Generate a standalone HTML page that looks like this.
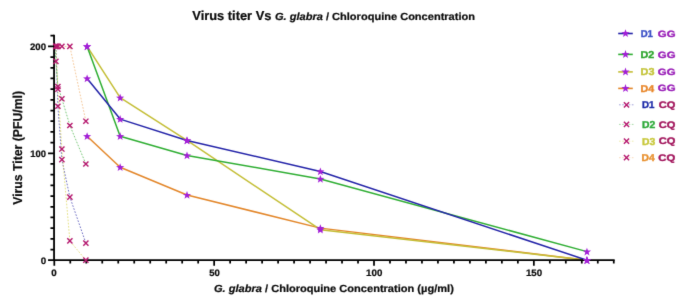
<!DOCTYPE html>
<html><head><meta charset="utf-8"><title>Virus titer Vs G. glabra / Chloroquine Concentration</title>
<style>html,body{margin:0;padding:0;background:#fff}</style></head>
<body>
<svg width="685" height="303" viewBox="0 0 685 303" style="display:block;font-family:'Liberation Sans',Arial,sans-serif;font-weight:bold;text-rendering:geometricPrecision">
<defs><filter id="soft" x="0" y="0" width="100%" height="100%" color-interpolation-filters="sRGB"><feConvolveMatrix order="3" kernelMatrix="0.0081 0.0738 0.0081 0.0738 0.6724 0.0738 0.0081 0.0738 0.0081" divisor="1" edgeMode="duplicate" preserveAlpha="true"/></filter></defs>
<g filter="url(#soft)">
<rect width="685" height="303" fill="#fff"/>
<path d="M85.87 243.10 L69.88 197.13 L61.89 159.71 L57.90 106.26 L55.90 46.40" stroke="#2222a4" stroke-width="0.8" stroke-opacity="0.8" stroke-dasharray="1.7 1.5" fill="none"/>
<path d="M85.87 163.99 L69.88 125.51 L61.89 98.78 L57.90 86.49 L55.90 61.37 L54.90 46.40" stroke="#2fa82f" stroke-width="0.8" stroke-opacity="0.8" stroke-dasharray="1.7 1.5" fill="none"/>
<path d="M85.87 260.20 L69.88 240.96 L61.89 149.02 L57.90 89.16 L55.90 46.40" stroke="#d6d040" stroke-width="0.8" stroke-opacity="0.8" stroke-dasharray="1.7 1.5" fill="none"/>
<path d="M85.87 121.23 L69.88 46.40 L61.89 46.40 L57.90 46.40 L55.90 46.40" stroke="#f0a860" stroke-width="0.8" stroke-opacity="0.8" stroke-dasharray="1.7 1.5" fill="none"/>
<path d="M87.10 136.20 L120.15 167.20 L187.00 194.99 L320.35 228.13 L586.95 260.20" stroke="#e3872b" stroke-width="1.5" fill="none" stroke-linejoin="round"/>
<path d="M87.10 46.40 L120.15 97.71 L187.00 140.47 L320.35 229.73 L586.95 260.20" stroke="#c4be36" stroke-width="1.5" fill="none" stroke-linejoin="round"/>
<path d="M87.10 46.40 L120.15 136.20 L187.00 155.44 L320.35 178.96 L586.95 251.65" stroke="#2fae33" stroke-width="1.5" fill="none" stroke-linejoin="round"/>
<path d="M87.10 78.47 L120.15 119.09 L187.00 140.47 L320.35 171.47 L586.95 260.20" stroke="#2323a8" stroke-width="1.5" fill="none" stroke-linejoin="round"/>
<path d="M54.05 34.81V260.20H614.67" stroke="#000" stroke-width="1.8" fill="none" stroke-linejoin="miter"/>
<path d="M48.05 260.20H54.05 M50.45 249.51H54.05 M50.45 238.82H54.05 M50.45 228.13H54.05 M50.45 217.44H54.05 M50.45 206.75H54.05 M50.45 196.06H54.05 M50.45 185.37H54.05 M50.45 174.68H54.05 M50.45 163.99H54.05 M48.05 153.30H54.05 M50.45 142.61H54.05 M50.45 131.92H54.05 M50.45 121.23H54.05 M50.45 110.54H54.05 M50.45 99.85H54.05 M50.45 89.16H54.05 M50.45 78.47H54.05 M50.45 67.78H54.05 M50.45 57.09H54.05 M48.05 46.40H54.05 M50.45 35.71H54.05 M54.30 260.2V265.80 M70.28 260.2V263.60 M86.27 260.2V263.60 M102.25 260.2V263.60 M118.24 260.2V263.60 M134.22 260.2V263.60 M150.21 260.2V263.60 M166.19 260.2V263.60 M182.18 260.2V263.60 M198.17 260.2V263.60 M214.15 260.2V265.80 M230.13 260.2V263.60 M246.12 260.2V263.60 M262.11 260.2V263.60 M278.09 260.2V263.60 M294.07 260.2V263.60 M310.06 260.2V263.60 M326.05 260.2V263.60 M342.03 260.2V263.60 M358.02 260.2V263.60 M374.00 260.2V265.80 M389.99 260.2V263.60 M405.97 260.2V263.60 M421.96 260.2V263.60 M437.94 260.2V263.60 M453.93 260.2V263.60 M469.91 260.2V263.60 M485.90 260.2V263.60 M501.88 260.2V263.60 M517.87 260.2V263.60 M533.85 260.2V265.80 M549.84 260.2V263.60 M565.82 260.2V263.60 M581.80 260.2V263.60 M597.79 260.2V263.60 M613.77 260.2V263.60" stroke="#000" stroke-width="1.75" fill="none"/>
<path d="M83.27 240.50L88.47 245.70M83.27 245.70L88.47 240.50" stroke="#b5186e" stroke-width="1.4" fill="none"/>
<path d="M67.28 194.53L72.48 199.73M67.28 199.73L72.48 194.53" stroke="#b5186e" stroke-width="1.4" fill="none"/>
<path d="M59.29 157.11L64.49 162.31M59.29 162.31L64.49 157.11" stroke="#b5186e" stroke-width="1.4" fill="none"/>
<path d="M55.30 103.66L60.50 108.86M55.30 108.86L60.50 103.66" stroke="#b5186e" stroke-width="1.4" fill="none"/>
<path d="M53.30 43.80L58.50 49.00M53.30 49.00L58.50 43.80" stroke="#b5186e" stroke-width="1.4" fill="none"/>
<path d="M83.27 161.39L88.47 166.59M83.27 166.59L88.47 161.39" stroke="#b5186e" stroke-width="1.4" fill="none"/>
<path d="M67.28 122.91L72.48 128.11M67.28 128.11L72.48 122.91" stroke="#b5186e" stroke-width="1.4" fill="none"/>
<path d="M59.29 96.18L64.49 101.38M59.29 101.38L64.49 96.18" stroke="#b5186e" stroke-width="1.4" fill="none"/>
<path d="M55.30 83.89L60.50 89.09M55.30 89.09L60.50 83.89" stroke="#b5186e" stroke-width="1.4" fill="none"/>
<path d="M53.30 58.77L58.50 63.97M53.30 63.97L58.50 58.77" stroke="#b5186e" stroke-width="1.4" fill="none"/>
<path d="M83.27 257.60L88.47 262.80M83.27 262.80L88.47 257.60" stroke="#b5186e" stroke-width="1.4" fill="none"/>
<path d="M67.28 238.36L72.48 243.56M67.28 243.56L72.48 238.36" stroke="#b5186e" stroke-width="1.4" fill="none"/>
<path d="M59.29 146.42L64.49 151.62M59.29 151.62L64.49 146.42" stroke="#b5186e" stroke-width="1.4" fill="none"/>
<path d="M55.30 86.56L60.50 91.76M55.30 91.76L60.50 86.56" stroke="#b5186e" stroke-width="1.4" fill="none"/>
<path d="M53.30 43.80L58.50 49.00M53.30 49.00L58.50 43.80" stroke="#b5186e" stroke-width="1.4" fill="none"/>
<path d="M83.27 118.63L88.47 123.83M83.27 123.83L88.47 118.63" stroke="#b5186e" stroke-width="1.4" fill="none"/>
<path d="M67.28 43.80L72.48 49.00M67.28 49.00L72.48 43.80" stroke="#b5186e" stroke-width="1.4" fill="none"/>
<path d="M59.29 43.80L64.49 49.00M59.29 49.00L64.49 43.80" stroke="#b5186e" stroke-width="1.4" fill="none"/>
<path d="M55.30 43.80L60.50 49.00M55.30 49.00L60.50 43.80" stroke="#b5186e" stroke-width="1.4" fill="none"/>
<path d="M53.30 43.80L58.50 49.00M53.30 49.00L58.50 43.80" stroke="#b5186e" stroke-width="1.4" fill="none"/>
<polygon points="87.10,74.47 88.13,77.35 91.19,77.44 88.76,79.31 89.63,82.25 87.10,80.52 84.57,82.25 85.44,79.31 83.01,77.44 86.07,77.35" fill="#a21fd6"/>
<polygon points="120.15,115.09 121.18,117.98 124.24,118.06 121.81,119.93 122.68,122.87 120.15,121.14 117.62,122.87 118.49,119.93 116.06,118.06 119.12,117.98" fill="#a21fd6"/>
<polygon points="187.00,136.47 188.03,139.36 191.09,139.44 188.66,141.31 189.53,144.25 187.00,142.52 184.47,144.25 185.34,141.31 182.91,139.44 185.97,139.36" fill="#a21fd6"/>
<polygon points="320.35,167.47 321.38,170.36 324.44,170.44 322.01,172.31 322.88,175.25 320.35,173.52 317.82,175.25 318.69,172.31 316.26,170.44 319.32,170.36" fill="#a21fd6"/>
<polygon points="586.95,256.20 587.98,259.08 591.04,259.17 588.61,261.04 589.48,263.98 586.95,262.25 584.42,263.98 585.29,261.04 582.86,259.17 585.92,259.08" fill="#a21fd6"/>
<polygon points="87.10,42.40 88.13,45.28 91.19,45.37 88.76,47.24 89.63,50.18 87.10,48.45 84.57,50.18 85.44,47.24 83.01,45.37 86.07,45.28" fill="#a21fd6"/>
<polygon points="120.15,132.20 121.18,135.08 124.24,135.17 121.81,137.04 122.68,139.97 120.15,138.25 117.62,139.97 118.49,137.04 116.06,135.17 119.12,135.08" fill="#a21fd6"/>
<polygon points="187.00,151.44 188.03,154.32 191.09,154.41 188.66,156.28 189.53,159.22 187.00,157.49 184.47,159.22 185.34,156.28 182.91,154.41 185.97,154.32" fill="#a21fd6"/>
<polygon points="320.35,174.96 321.38,177.84 324.44,177.93 322.01,179.80 322.88,182.73 320.35,181.01 317.82,182.73 318.69,179.80 316.26,177.93 319.32,177.84" fill="#a21fd6"/>
<polygon points="586.95,247.65 587.98,250.53 591.04,250.62 588.61,252.49 589.48,255.43 586.95,253.70 584.42,255.43 585.29,252.49 582.86,250.62 585.92,250.53" fill="#a21fd6"/>
<polygon points="87.10,42.40 88.13,45.28 91.19,45.37 88.76,47.24 89.63,50.18 87.10,48.45 84.57,50.18 85.44,47.24 83.01,45.37 86.07,45.28" fill="#a21fd6"/>
<polygon points="120.15,93.71 121.18,96.60 124.24,96.68 121.81,98.55 122.68,101.49 120.15,99.76 117.62,101.49 118.49,98.55 116.06,96.68 119.12,96.60" fill="#a21fd6"/>
<polygon points="187.00,136.47 188.03,139.36 191.09,139.44 188.66,141.31 189.53,144.25 187.00,142.52 184.47,144.25 185.34,141.31 182.91,139.44 185.97,139.36" fill="#a21fd6"/>
<polygon points="320.35,225.73 321.38,228.62 324.44,228.70 322.01,230.57 322.88,233.51 320.35,231.78 317.82,233.51 318.69,230.57 316.26,228.70 319.32,228.62" fill="#a21fd6"/>
<polygon points="586.95,256.20 587.98,259.08 591.04,259.17 588.61,261.04 589.48,263.98 586.95,262.25 584.42,263.98 585.29,261.04 582.86,259.17 585.92,259.08" fill="#a21fd6"/>
<polygon points="87.10,132.20 88.13,135.08 91.19,135.17 88.76,137.04 89.63,139.97 87.10,138.25 84.57,139.97 85.44,137.04 83.01,135.17 86.07,135.08" fill="#a21fd6"/>
<polygon points="120.15,163.20 121.18,166.08 124.24,166.17 121.81,168.04 122.68,170.98 120.15,169.25 117.62,170.98 118.49,168.04 116.06,166.17 119.12,166.08" fill="#a21fd6"/>
<polygon points="187.00,190.99 188.03,193.88 191.09,193.96 188.66,195.83 189.53,198.77 187.00,197.04 184.47,198.77 185.34,195.83 182.91,193.96 185.97,193.88" fill="#a21fd6"/>
<polygon points="320.35,224.13 321.38,227.01 324.44,227.10 322.01,228.97 322.88,231.91 320.35,230.18 317.82,231.91 318.69,228.97 316.26,227.10 319.32,227.01" fill="#a21fd6"/>
<polygon points="586.95,256.20 587.98,259.08 591.04,259.17 588.61,261.04 589.48,263.98 586.95,262.25 584.42,263.98 585.29,261.04 582.86,259.17 585.92,259.08" fill="#a21fd6"/>
<text transform="translate(40.63 263.75) scale(1.0382 1)" font-size="9.45" fill="#0b0b0b" stroke="#0b0b0b" stroke-width="0.22">0</text>
<text transform="translate(30.32 156.85) scale(0.9987 1)" font-size="9.45" fill="#0b0b0b" stroke="#0b0b0b" stroke-width="0.22">100</text>
<text transform="translate(29.98 49.95) scale(1.0210 1)" font-size="9.45" fill="#0b0b0b" stroke="#0b0b0b" stroke-width="0.22">200</text>
<text transform="translate(51.28 276.30) scale(1.0382 1)" font-size="9.45" fill="#0b0b0b" stroke="#0b0b0b" stroke-width="0.22">0</text>
<text transform="translate(209.17 276.30) scale(1.0135 1)" font-size="9.45" fill="#0b0b0b" stroke="#0b0b0b" stroke-width="0.22">50</text>
<text transform="translate(366.06 276.30) scale(1.0325 1)" font-size="9.45" fill="#0b0b0b" stroke="#0b0b0b" stroke-width="0.22">100</text>
<text transform="translate(525.91 276.30) scale(1.0325 1)" font-size="9.45" fill="#0b0b0b" stroke="#0b0b0b" stroke-width="0.22">150</text>
<text transform="translate(192.33 19.70) scale(0.9888 1)" font-size="13.0" fill="#0b0b0b" stroke="#0b0b0b" stroke-width="0.22">Virus titer Vs</text>
<text transform="translate(274.98 19.70) scale(1.0628 1)" font-size="10.4" fill="#0b0b0b" stroke="#0b0b0b" stroke-width="0.22"><tspan font-style="italic">G. glabra</tspan> / Chloroquine Concentration</text>
<text transform="translate(213.98 291.90) scale(1.0643 1)" font-size="10.4" fill="#0b0b0b" stroke="#0b0b0b" stroke-width="0.22"><tspan font-style="italic">G. glabra</tspan> / Chloroquine Concentration (µg/ml)</text>
<text transform="translate(22.00 204.76) rotate(-90) scale(0.9492 1)" font-size="12.9" fill="#0b0b0b" stroke="#0b0b0b" stroke-width="0.22">Virus Titer (PFU/ml)</text>
<path d="M618.2 33.5H632.8" stroke="#2323a8" stroke-width="1.6"/>
<polygon points="625.50,29.20 626.53,32.08 629.59,32.17 627.16,34.04 628.03,36.98 625.50,35.25 622.97,36.98 623.84,34.04 621.41,32.17 624.47,32.08" fill="#a21fd6"/>
<text transform="translate(640.67 36.90) scale(0.9620 1)" font-size="10.0" fill="#3a4fc6" stroke="#3a4fc6" stroke-width="0.4">D1</text>
<text transform="translate(657.83 36.65) scale(1.2343 1)" font-size="9.2" fill="#9a20b8" stroke="#9a20b8" stroke-width="0.4">GG</text>
<path d="M618.2 54.4H632.8" stroke="#2fae33" stroke-width="1.6"/>
<polygon points="625.50,50.10 626.53,52.98 629.59,53.07 627.16,54.94 628.03,57.88 625.50,56.15 622.97,57.88 623.84,54.94 621.41,53.07 624.47,52.98" fill="#a21fd6"/>
<text transform="translate(640.59 58.20) scale(1.0742 1)" font-size="10.0" fill="#2ea62e" stroke="#2ea62e" stroke-width="0.4">D2</text>
<text transform="translate(657.83 57.95) scale(1.2343 1)" font-size="9.2" fill="#9a20b8" stroke="#9a20b8" stroke-width="0.4">GG</text>
<path d="M618.2 71.9H632.8" stroke="#c4be36" stroke-width="1.6"/>
<polygon points="625.50,67.60 626.53,70.48 629.59,70.57 627.16,72.44 628.03,75.38 625.50,73.65 622.97,75.38 623.84,72.44 621.41,70.57 624.47,70.48" fill="#a21fd6"/>
<text transform="translate(640.59 75.10) scale(1.0790 1)" font-size="10.0" fill="#c4c43a" stroke="#c4c43a" stroke-width="0.4">D3</text>
<text transform="translate(657.83 74.85) scale(1.2343 1)" font-size="9.2" fill="#9a20b8" stroke="#9a20b8" stroke-width="0.4">GG</text>
<path d="M618.2 88.4H632.8" stroke="#e3872b" stroke-width="1.6"/>
<polygon points="625.50,84.10 626.53,86.98 629.59,87.07 627.16,88.94 628.03,91.88 625.50,90.15 622.97,91.88 623.84,88.94 621.41,87.07 624.47,86.98" fill="#a21fd6"/>
<text transform="translate(640.60 91.50) scale(1.0605 1)" font-size="10.0" fill="#e8862a" stroke="#e8862a" stroke-width="0.4">D4</text>
<text transform="translate(657.83 91.25) scale(1.2343 1)" font-size="9.2" fill="#9a20b8" stroke="#9a20b8" stroke-width="0.4">GG</text>
<path d="M619 104.8H634" stroke="#2222a4" stroke-width="0.75" stroke-opacity="0.55" stroke-dasharray="1.7 1.5"/>
<path d="M623.90 102.20L629.10 107.40M623.90 107.40L629.10 102.20" stroke="#b5186e" stroke-width="1.4" fill="none"/>
<text transform="translate(641.96 108.10) scale(0.9705 1)" font-size="10.0" fill="#1c2aa8" stroke="#1c2aa8" stroke-width="0.4">D1</text>
<text transform="translate(658.85 107.95) scale(1.1663 1)" font-size="9.5" fill="#a3185e" stroke="#a3185e" stroke-width="0.4">CQ</text>
<path d="M619 124.4H634" stroke="#2fa82f" stroke-width="0.75" stroke-opacity="0.55" stroke-dasharray="1.7 1.5"/>
<path d="M623.90 121.80L629.10 127.00M623.90 127.00L629.10 121.80" stroke="#b5186e" stroke-width="1.4" fill="none"/>
<text transform="translate(641.91 127.70) scale(1.0401 1)" font-size="10.0" fill="#2eaa3a" stroke="#2eaa3a" stroke-width="0.4">D2</text>
<text transform="translate(658.85 127.55) scale(1.1663 1)" font-size="9.5" fill="#a3185e" stroke="#a3185e" stroke-width="0.4">CQ</text>
<path d="M619 141.2H634" stroke="#d6d040" stroke-width="0.75" stroke-opacity="0.55" stroke-dasharray="1.7 1.5"/>
<path d="M623.90 138.60L629.10 143.80M623.90 143.80L629.10 138.60" stroke="#b5186e" stroke-width="1.4" fill="none"/>
<text transform="translate(641.92 144.50) scale(1.0365 1)" font-size="10.0" fill="#c8c83c" stroke="#c8c83c" stroke-width="0.4">D3</text>
<text transform="translate(658.85 144.35) scale(1.1663 1)" font-size="9.5" fill="#a3185e" stroke="#a3185e" stroke-width="0.4">CQ</text>
<path d="M619 157.7H634" stroke="#f0a860" stroke-width="0.75" stroke-opacity="0.55" stroke-dasharray="1.7 1.5"/>
<path d="M623.90 155.10L629.10 160.30M623.90 160.30L629.10 155.10" stroke="#b5186e" stroke-width="1.4" fill="none"/>
<text transform="translate(641.52 161.10) scale(1.0273 1)" font-size="10.0" fill="#e8902e" stroke="#e8902e" stroke-width="0.4">D4</text>
<text transform="translate(658.34 160.95) scale(1.1886 1)" font-size="9.5" fill="#a3185e" stroke="#a3185e" stroke-width="0.4">CQ</text>
</g></svg>
</body></html>
